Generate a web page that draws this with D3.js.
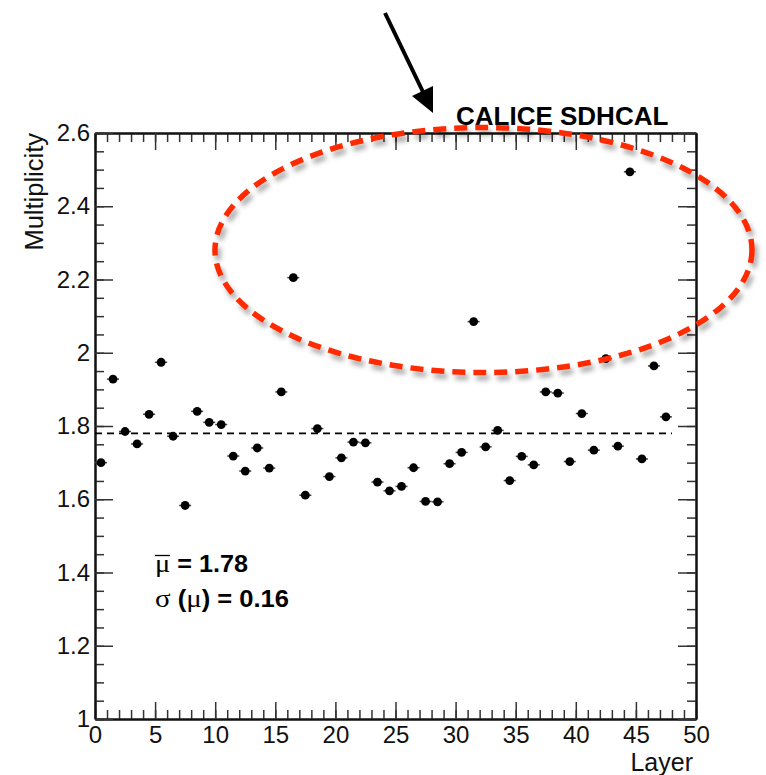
<!DOCTYPE html>
<html>
<head>
<meta charset="utf-8">
<script src="https://cdn.jsdelivr.net/npm/d3@7"></script>
<style>
  body { margin: 0; background: #fff; }
  svg text { font-family: "Liberation Sans", Arial, Helvetica, sans-serif; }
</style>
</head>
<body>
<div id="my_dataviz"></div>
<script>
// layer number (bin index) and mean multiplicity per layer
var layers = [0, 1, 2, 3, 4, 5, 6, 7, 8, 9, 10, 11, 12, 13, 14, 15,
              16, 17, 18, 19, 20, 21, 22, 23, 24, 25, 26, 27, 28, 29, 30, 31,
              32, 33, 34, 35, 36, 37, 38, 39, 40, 41, 42, 43, 44, 45, 46, 47];
var multiplicity = [1.700, 1.928, 1.785, 1.751, 1.832, 1.974, 1.772, 1.583,
                    1.840, 1.810, 1.804, 1.718, 1.677, 1.740, 1.685, 1.893,
                    2.205, 1.611, 1.793, 1.662, 1.713, 1.756, 1.754, 1.647,
                    1.623, 1.635, 1.686, 1.594, 1.593, 1.697, 1.728, 2.085,
                    1.743, 1.788, 1.651, 1.717, 1.694, 1.893, 1.890, 1.703,
                    1.834, 1.734, 1.984, 1.745, 2.494, 1.710, 1.964, 1.825];
var meanValue = 1.78;
var meanLabel = "1.78";
var sigmaLabel = "0.16";
var xTicks = [0, 5, 10, 15, 20, 25, 30, 35, 40, 45, 50];
var yTicks = [1, 1.2, 1.4, 1.6, 1.8, 2, 2.2, 2.4, 2.6];
var yTickLabels = ["1", "1.2", "1.4", "1.6", "1.8", "2", "2.2", "2.4", "2.6"];

var margin = {top: 133, right: 70, bottom: 56, left: 95},
    width = 766 - margin.left - margin.right,
    height = 775 - margin.top - margin.bottom;

var root = d3.select("#my_dataviz")
  .append("svg")
    .attr("width", 766)
    .attr("height", 775);

var defs = root.append("defs");
var shadow = defs.append("filter").attr("id", "shadow")
  .attr("x", "-20%").attr("y", "-20%").attr("width", "140%").attr("height", "140%");
shadow.append("feDropShadow")
  .attr("dx", 3).attr("dy", 5).attr("stdDeviation", 2.5)
  .attr("flood-color", "#000").attr("flood-opacity", 0.35);

var svg = root.append("g")
  .attr("transform", "translate(" + margin.left + "," + margin.top + ")");

var x = d3.scaleLinear().domain([0, 50]).range([0, width]);
var y = d3.scaleLinear().domain([1, 2.6]).range([height, 0]);

function styleAxis(g) {
  g.select(".domain").attr("stroke", "#111").attr("stroke-width", 2);
  g.selectAll(".tick line").attr("stroke", "#333").attr("stroke-width", 1.5);
}

// minor ticks
svg.append("g").attr("transform", "translate(0," + height + ")")
  .call(d3.axisBottom(x).tickValues(x.ticks(50)).tickSizeInner(-9).tickSizeOuter(0).tickFormat(""))
  .call(styleAxis);
svg.append("g")
  .call(d3.axisTop(x).tickValues(x.ticks(50)).tickSizeInner(-9).tickSizeOuter(0).tickFormat(""))
  .call(styleAxis);
svg.append("g")
  .call(d3.axisLeft(y).tickValues(y.ticks(32)).tickSizeInner(-9).tickSizeOuter(0).tickFormat(""))
  .call(styleAxis);
svg.append("g").attr("transform", "translate(" + width + ",0)")
  .call(d3.axisRight(y).tickValues(y.ticks(32)).tickSizeInner(-9).tickSizeOuter(0).tickFormat(""))
  .call(styleAxis);

// major ticks
var xAxis = svg.append("g").attr("transform", "translate(0," + height + ")")
  .call(d3.axisBottom(x).tickValues(xTicks).tickSizeInner(-17).tickSizeOuter(0).tickPadding(7))
  .call(styleAxis);
svg.append("g")
  .call(d3.axisTop(x).tickValues(xTicks).tickSizeInner(-17).tickSizeOuter(0).tickFormat(""))
  .call(styleAxis);
var yAxis = svg.append("g")
  .call(d3.axisLeft(y).tickValues(yTicks).tickSizeInner(-18).tickSizeOuter(0).tickPadding(5)
    .tickFormat(function(d, i) { return yTickLabels[i]; }))
  .call(styleAxis);
svg.append("g").attr("transform", "translate(" + width + ",0)")
  .call(d3.axisRight(y).tickValues(yTicks).tickSizeInner(-18).tickSizeOuter(0).tickFormat(""))
  .call(styleAxis);

xAxis.selectAll("text").attr("font-size", 24).attr("fill", "#111")
  .style("font-family", '"Liberation Sans", Arial, sans-serif');
yAxis.selectAll("text").attr("font-size", 24).attr("fill", "#111")
  .style("font-family", '"Liberation Sans", Arial, sans-serif');

// axis titles
root.append("text")
  .attr("x", 693).attr("y", 771)
  .attr("text-anchor", "end")
  .attr("font-size", 25)
  .attr("fill", "#111")
  .text("Layer");
root.append("text")
  .attr("transform", "translate(43,133) rotate(-90)")
  .attr("text-anchor", "end")
  .attr("font-size", 25.5)
  .attr("fill", "#111")
  .text("Multiplicity");

// mean line
svg.append("line")
  .attr("x1", x(0)).attr("x2", x(48))
  .attr("y1", y(meanValue)).attr("y2", y(meanValue))
  .attr("stroke", "#000").attr("stroke-width", 1.6)
  .attr("stroke-dasharray", "7,5");

// points with horizontal bin-width error bars
var pts = layers.map(function(l, i) { return {layer: l, m: multiplicity[i]}; });
svg.append("g").selectAll("line")
  .data(pts).enter().append("line")
    .attr("x1", function(d) { return x(d.layer); })
    .attr("x2", function(d) { return x(d.layer + 1); })
    .attr("y1", function(d) { return y(d.m); })
    .attr("y2", function(d) { return y(d.m); })
    .attr("stroke", "#444").attr("stroke-width", 1.5);
svg.append("g").selectAll("circle")
  .data(pts).enter().append("circle")
    .attr("cx", function(d) { return x(d.layer + 0.5); })
    .attr("cy", function(d) { return y(d.m); })
    .attr("r", 4.4)
    .attr("fill", "#000");

// stats text
var serif = '"Liberation Serif", "Times New Roman", serif';
var t1 = root.append("text").attr("x", 155).attr("y", 572)
  .attr("font-size", 23).attr("font-weight", "bold").attr("fill", "#000")
  .attr("textLength", 93).attr("lengthAdjust", "spacingAndGlyphs");
t1.append("tspan").style("font-family", serif).attr("font-weight", "normal").attr("font-size", 26).text("\u03bc");
t1.append("tspan").text(" = " + meanLabel);
root.append("line")
  .attr("x1", 155).attr("x2", 170).attr("y1", 555.5).attr("y2", 555.5)
  .attr("stroke", "#000").attr("stroke-width", 1.3);

var t2 = root.append("text").attr("x", 155).attr("y", 607)
  .attr("font-size", 23).attr("font-weight", "bold").attr("fill", "#000")
  .attr("textLength", 134).attr("lengthAdjust", "spacingAndGlyphs");
t2.append("tspan").style("font-family", serif).attr("font-weight", "normal").attr("font-size", 26).text("\u03c3");
t2.append("tspan").text(" (");
t2.append("tspan").style("font-family", serif).attr("font-weight", "normal").attr("font-size", 26).text("\u03bc");
t2.append("tspan").text(") = " + sigmaLabel);

// title
root.append("text")
  .attr("x", 456).attr("y", 125)
  .attr("font-size", 26).attr("font-weight", "bold").attr("fill", "#000")
  .text("CALICE SDHCAL");

// arrow annotation
root.append("line")
  .attr("x1", 385).attr("y1", 13).attr("x2", 424).attr("y2", 94)
  .attr("stroke", "#000").attr("stroke-width", 4);
root.append("path")
  .attr("d", "M433,113 L412,96 L433,86 Z")
  .attr("fill", "#000");

// red dashed ellipse highlight
root.append("ellipse")
  .attr("cx", 483.5).attr("cy", 250).attr("rx", 268.5).attr("ry", 122.5)
  .attr("fill", "none")
  .attr("stroke", "#ff2a00").attr("stroke-width", 5.5)
  .attr("stroke-dasharray", "13,8")
  .attr("filter", "url(#shadow)");
</script>
</body>
</html>
